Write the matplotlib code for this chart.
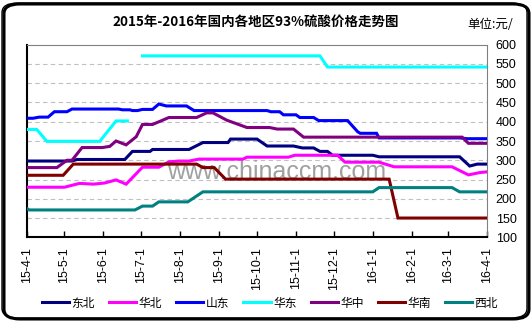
import matplotlib
matplotlib.use('Agg')
import matplotlib.pyplot as plt
import matplotlib.dates as mdates
from matplotlib.patches import FancyBboxPatch
import numpy as np
import pandas as pd

plt.rcParams['font.family'] = ['Noto Sans CJK SC', 'DejaVu Sans']

title = '2015年-2016年国内各地区93%硫酸价格走势图'
unit_label = '单位:元/'
watermark = 'www.chinaccm.com'

# price breakpoints (yuan/ton)
dongbei_dates = ['2015-04-01', '2015-05-07', '2015-05-11', '2015-06-18', '2015-06-24', '2015-07-08',
                 '2015-07-10', '2015-08-08', '2015-08-19', '2015-09-08', '2015-09-10', '2015-10-01',
                 '2015-10-09', '2015-10-30', '2015-11-06', '2015-11-15', '2015-11-20', '2015-11-26',
                 '2015-11-30', '2016-01-01', '2016-01-06', '2016-03-10', '2016-03-18', '2016-03-24',
                 '2016-04-01']
dongbei_vals = [298, 298, 302, 302, 323, 323, 328, 328, 346, 346, 355, 355, 337, 337, 332, 332,
                323, 323, 313, 313, 309, 309, 285, 290, 290]

huabei_dates = ['2015-04-01', '2015-05-01', '2015-05-13', '2015-05-24', '2015-06-02', '2015-06-11',
                '2015-06-19', '2015-07-02', '2015-07-15', '2015-07-23', '2015-07-31', '2015-08-08',
                '2015-08-16', '2015-09-20', '2015-09-23', '2015-10-26', '2015-10-31', '2015-12-04',
                '2015-12-10', '2016-01-06', '2016-01-18', '2016-03-04', '2016-03-17', '2016-03-26',
                '2016-04-01']
huabei_vals = [230, 230, 240, 238, 241, 249, 238, 282, 282, 296, 298, 298, 303, 303, 308, 308,
               313, 313, 295, 295, 283, 283, 262, 268, 270]

shandong_dates = ['2015-04-01', '2015-04-06', '2015-04-11', '2015-04-18', '2015-04-23', '2015-05-03',
                  '2015-05-07', '2015-06-13', '2015-06-16', '2015-06-22', '2015-06-24', '2015-06-28',
                  '2015-07-02', '2015-07-10', '2015-07-15', '2015-07-21', '2015-08-06', '2015-08-12',
                  '2015-10-09', '2015-10-12', '2015-10-19', '2015-10-22', '2015-11-01', '2015-11-04',
                  '2015-11-15', '2015-11-19', '2015-12-12', '2015-12-20', '2015-12-22', '2016-01-04',
                  '2016-01-06', '2016-03-10', '2016-03-16', '2016-04-01']
shandong_vals = [409, 409, 412, 412, 426, 426, 433, 433, 431, 431, 429, 429, 432, 432, 446, 441,
                 441, 429, 429, 426, 426, 418, 418, 411, 411, 403, 403, 374, 370, 370, 358, 358,
                 356, 356]

huadong_dates = ['2015-04-01', '2015-04-09', '2015-04-17', '2015-05-29', '2015-06-11', '2015-06-20',
                 '2015-06-26', '2015-07-02', '2015-11-20', '2015-11-26', '2016-04-01']
huadong_vals = [380, 380, 349, 349, 402, 402, np.nan, 571, 571, 542, 542]

huazhong_dates = ['2015-04-01', '2015-04-25', '2015-05-03', '2015-05-07', '2015-05-15', '2015-05-31',
                  '2015-06-06', '2015-06-11', '2015-06-19', '2015-06-27', '2015-07-02', '2015-07-10',
                  '2015-07-18', '2015-07-23', '2015-08-14', '2015-08-22', '2015-08-27', '2015-09-07',
                  '2015-09-23', '2015-10-11', '2015-10-17', '2015-10-30', '2015-11-07', '2016-03-12',
                  '2016-03-17', '2016-04-01']
huazhong_vals = [281, 281, 300, 300, 333, 333, 336, 350, 340, 361, 393, 393, 404, 411, 411, 423,
                 423, 404, 385, 385, 381, 381, 360, 360, 344, 344]

huanan_dates = ['2015-04-01', '2015-04-30', '2015-05-08', '2015-08-14', '2015-08-19', '2015-08-28',
                '2015-09-06', '2016-01-14', '2016-01-21', '2016-04-01']
huanan_vals = [261, 261, 290, 290, 281, 281, 251, 251, 150, 150]

xibei_dates = ['2015-04-01', '2015-04-03', '2015-06-26', '2015-07-02', '2015-07-10', '2015-07-15',
               '2015-08-07', '2015-08-19', '2016-01-01', '2016-01-06', '2016-03-04', '2016-03-10',
               '2016-04-01']
xibei_vals = [175, 171, 171, 181, 181, 192, 192, 218, 218, 229, 229, 218, 218]

series = [
    ('东北', dongbei_dates, dongbei_vals, '#000080'),
    ('华北', huabei_dates, huabei_vals, '#ff00ff'),
    ('山东', shandong_dates, shandong_vals, '#0000ff'),
    ('华东', huadong_dates, huadong_vals, '#00ffff'),
    ('华中', huazhong_dates, huazhong_vals, '#800080'),
    ('华南', huanan_dates, huanan_vals, '#800000'),
    ('西北', xibei_dates, xibei_vals, '#008080'),
]

fig = plt.figure(figsize=(5.31, 3.22), dpi=100)
fig.patch.set_facecolor('white')

# rounded outer frame with a heavier bottom-right edge
shadow = FancyBboxPatch((4 / 531, 3 / 322), 525 / 531, 315 / 322,
                        boxstyle='round,pad=0,rounding_size=0.03',
                        transform=fig.transFigure, fc='none', ec='black', lw=2.2, zorder=0)
frame = FancyBboxPatch((2 / 531, 4 / 322), 525 / 531, 315 / 322,
                       boxstyle='round,pad=0,rounding_size=0.03',
                       transform=fig.transFigure, fc='none', ec='black', lw=1.0, zorder=0)
fig.patches.extend([shadow, frame])

ax = fig.add_axes([26.7 / 531, (322 - 237.3) / 322, 460.6 / 531, 192.6 / 322])
ax.set_facecolor('none')

for name, dates, vals, color in series:
    ax.plot(pd.to_datetime(dates), vals, color=color, lw=2.2, label=name,
            solid_joinstyle='miter', zorder=3)

ax.set_xlim(pd.Timestamp('2015-04-01'), pd.Timestamp('2016-04-01'))
ax.set_ylim(100, 600)
ax.set_yticks(np.arange(100, 601, 50))
ax.yaxis.tick_right()
ax.tick_params(axis='y', length=0, pad=6, labelsize=9)
for lab in ax.get_yticklabels():
    lab.set_fontfamily('Liberation Sans')

ax.xaxis.set_major_locator(mdates.MonthLocator(bymonthday=1))
ax.xaxis.set_major_formatter(plt.FuncFormatter(
    lambda v, p: '{}-{}-{}'.format(mdates.num2date(v).year % 100, mdates.num2date(v).month,
                                   mdates.num2date(v).day)))
ax.tick_params(axis='x', direction='in', length=4, width=1, pad=7, labelsize=9, labelrotation=90)
for lab in ax.get_xticklabels():
    lab.set_fontfamily('Liberation Sans')

for v in range(150, 600, 50):
    ax.axhline(v, color='#c0c0c0', lw=0.8, ls=(0, (4, 3)), zorder=1)

ax.spines['left'].set_linewidth(1.5)
ax.spines['bottom'].set_linewidth(1.5)
for s in ['top', 'right']:
    ax.spines[s].set_color('#808080')
    ax.spines[s].set_linewidth(0.8)
    ax.spines[s].set_linestyle((0, (1, 1)))

ax.text(0.542, 0.34, watermark, transform=ax.transAxes, ha='center', va='center',
        fontsize=18, color='#a0a0a0', family='Liberation Sans', zorder=2)

fig.text(256 / 531, 1 - 22 / 322, title, ha='center', va='center', fontsize=9.7,
         fontweight='bold')
fig.text(513 / 531, 1 - 25 / 322, unit_label, ha='right', va='center', fontsize=9)

fig.legend(loc='center', bbox_to_anchor=(270 / 531, 1 - 303 / 322), ncol=7, frameon=False,
           fontsize=8.5, handlelength=2.3, handletextpad=0.2, columnspacing=1.2,
           borderaxespad=0, borderpad=0)

fig.savefig('out.png', dpi=100)
